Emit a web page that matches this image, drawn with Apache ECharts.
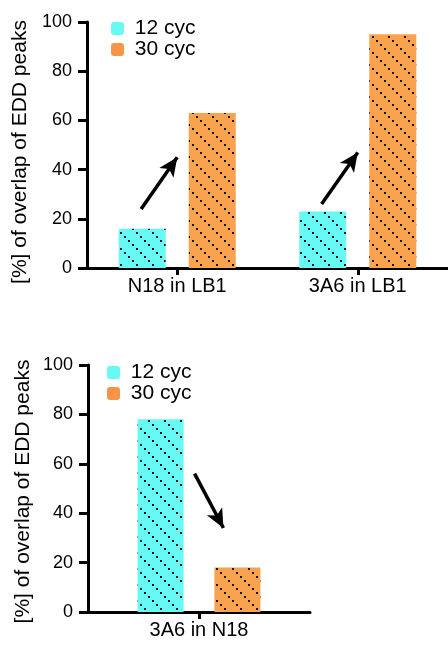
<!DOCTYPE html>
<html>
<head>
<meta charset="utf-8">
<script src="https://cdn.jsdelivr.net/npm/echarts@6/dist/echarts.min.js"></script>
<style>html,body{margin:0;padding:0;background:#fff}#c{width:448px;height:648px}</style>
</head>
<body>
<div id="c"></div>
<script>
// ---- data ----
const seriesNames = ['12 cyc', '30 cyc'];
const topCategories = ['N18 in LB1', '3A6 in LB1'];
const top12cyc = [16, 23];
const top30cyc = [63, 95];
const bottomCategories = ['3A6 in N18'];
const bottom12cyc = [78];
const bottom30cyc = [18];
const yAxisTitle = '[%] of overlap of EDD peaks';
// arrows in (category position, % value) units: [from, to]
const topArrows = [[[-0.2, 24], [0.0, 45]], [[0.8, 26], [1.0, 47]]];
const bottomArrows = [[[-0.02, 56], [0.11, 34]]];

const CYAN = '#66faf4';
const ORANGE = '#fba34c';
const FONT = '"Liberation Sans", Arial, Helvetica, sans-serif';

function pattern(bg) {
  const c = document.createElement('canvas');
  c.width = 16; c.height = 16;
  const ctx = c.getContext('2d');
  ctx.fillStyle = bg; ctx.fillRect(0, 0, 16, 16);
  ctx.fillStyle = '#111';
  for (let i = 0; i < 4; i++) ctx.fillRect(i * 4, i * 4, 2, 2);
  return {image: c, repeat: 'repeat'};
}

const chart = echarts.init(document.getElementById('c'), null, {renderer: 'canvas'});

function yAxis(gridIndex, shift) {
  return {
    type: 'value', gridIndex, min: 0, max: 100, interval: 20,
    axisLine: {show: true, onZero: false, lineStyle: {color: '#000', width: 3}},
    axisTick: {show: true, length: 9, lineStyle: {color: '#000', width: 3}},
    axisLabel: {color: '#000', fontSize: 18, fontFamily: FONT, margin: 15},
    splitLine: {show: false},
    name: yAxisTitle, nameLocation: 'middle', nameRotate: 90, nameGap: 54,
    nameTextStyle: {color: '#000', fontSize: 21, fontFamily: FONT, padding: [0, shift, 0, 0]}
  };
}
function catAxis(gridIndex, data) {
  return {
    type: 'category', gridIndex, data,
    axisLine: {show: true, onZero: false, lineStyle: {color: '#000', width: 3}},
    axisTick: {show: true, alignWithLabel: true, length: 7, lineStyle: {color: '#000', width: 3}},
    axisLabel: {color: '#000', fontSize: 20, fontFamily: FONT, margin: 8}
  };
}
function hiddenAxis(gridIndex, n) {
  return {type: 'value', gridIndex, min: -0.5, max: n - 0.5, show: false,
          axisLine: {onZero: false}};
}
function arrowSeries(xAxisIndex, yAxisIndex, arrows) {
  return {
    type: 'line', xAxisIndex, yAxisIndex, data: [], silent: true,
    markLine: {
      silent: true, symbol: ['none', 'arrow'], symbolSize: [13, 19],
      label: {show: false},
      lineStyle: {color: '#000', width: 3.5, type: 'solid'},
      data: arrows.map(a => [{coord: a[0]}, {coord: a[1]}])
    }
  };
}
function legend(left, top) {
  return {orient: 'vertical', left, top, padding: 0, itemGap: 0, itemWidth: 13, itemHeight: 13,
    formatter: n => ' ' + n,
    textStyle: {fontSize: 21, color: '#000', fontFamily: FONT, lineHeight: 20},
    data: [{name: seriesNames[0], itemStyle: {color: CYAN}},
           {name: seriesNames[1], itemStyle: {color: '#f8934a'}}]};
}

const option = {
  animation: false,
  backgroundColor: '#fff',
  textStyle: {fontFamily: FONT},
  grid: [
    {left: 87, top: 22, width: 368, height: 246},
    {left: 88, top: 365, width: 222, height: 247}
  ],
  legend: [legend(111, 18), legend(107, 362)],
  xAxis: [
    catAxis(0, topCategories),
    hiddenAxis(0, topCategories.length),
    catAxis(1, bottomCategories),
    hiddenAxis(1, bottomCategories.length)
  ],
  yAxis: [yAxis(0, 14), yAxis(1, 6)],
  series: [
    {name: seriesNames[0], type: 'bar', xAxisIndex: 0, yAxisIndex: 0, data: top12cyc,
     barWidth: 47, barGap: '49%', itemStyle: {color: pattern(CYAN)}},
    {name: seriesNames[1], type: 'bar', xAxisIndex: 0, yAxisIndex: 0, data: top30cyc,
     barWidth: 47, barGap: '49%', itemStyle: {color: pattern(ORANGE)}},
    {name: seriesNames[0], type: 'bar', xAxisIndex: 2, yAxisIndex: 1, data: bottom12cyc,
     barWidth: 46, barGap: '67%', itemStyle: {color: pattern(CYAN)}},
    {name: seriesNames[1], type: 'bar', xAxisIndex: 2, yAxisIndex: 1, data: bottom30cyc,
     barWidth: 46, barGap: '67%', itemStyle: {color: pattern(ORANGE)}},
    arrowSeries(1, 0, topArrows),
    arrowSeries(3, 1, bottomArrows)
  ]
};
chart.setOption(option);
</script>
</body>
</html>
